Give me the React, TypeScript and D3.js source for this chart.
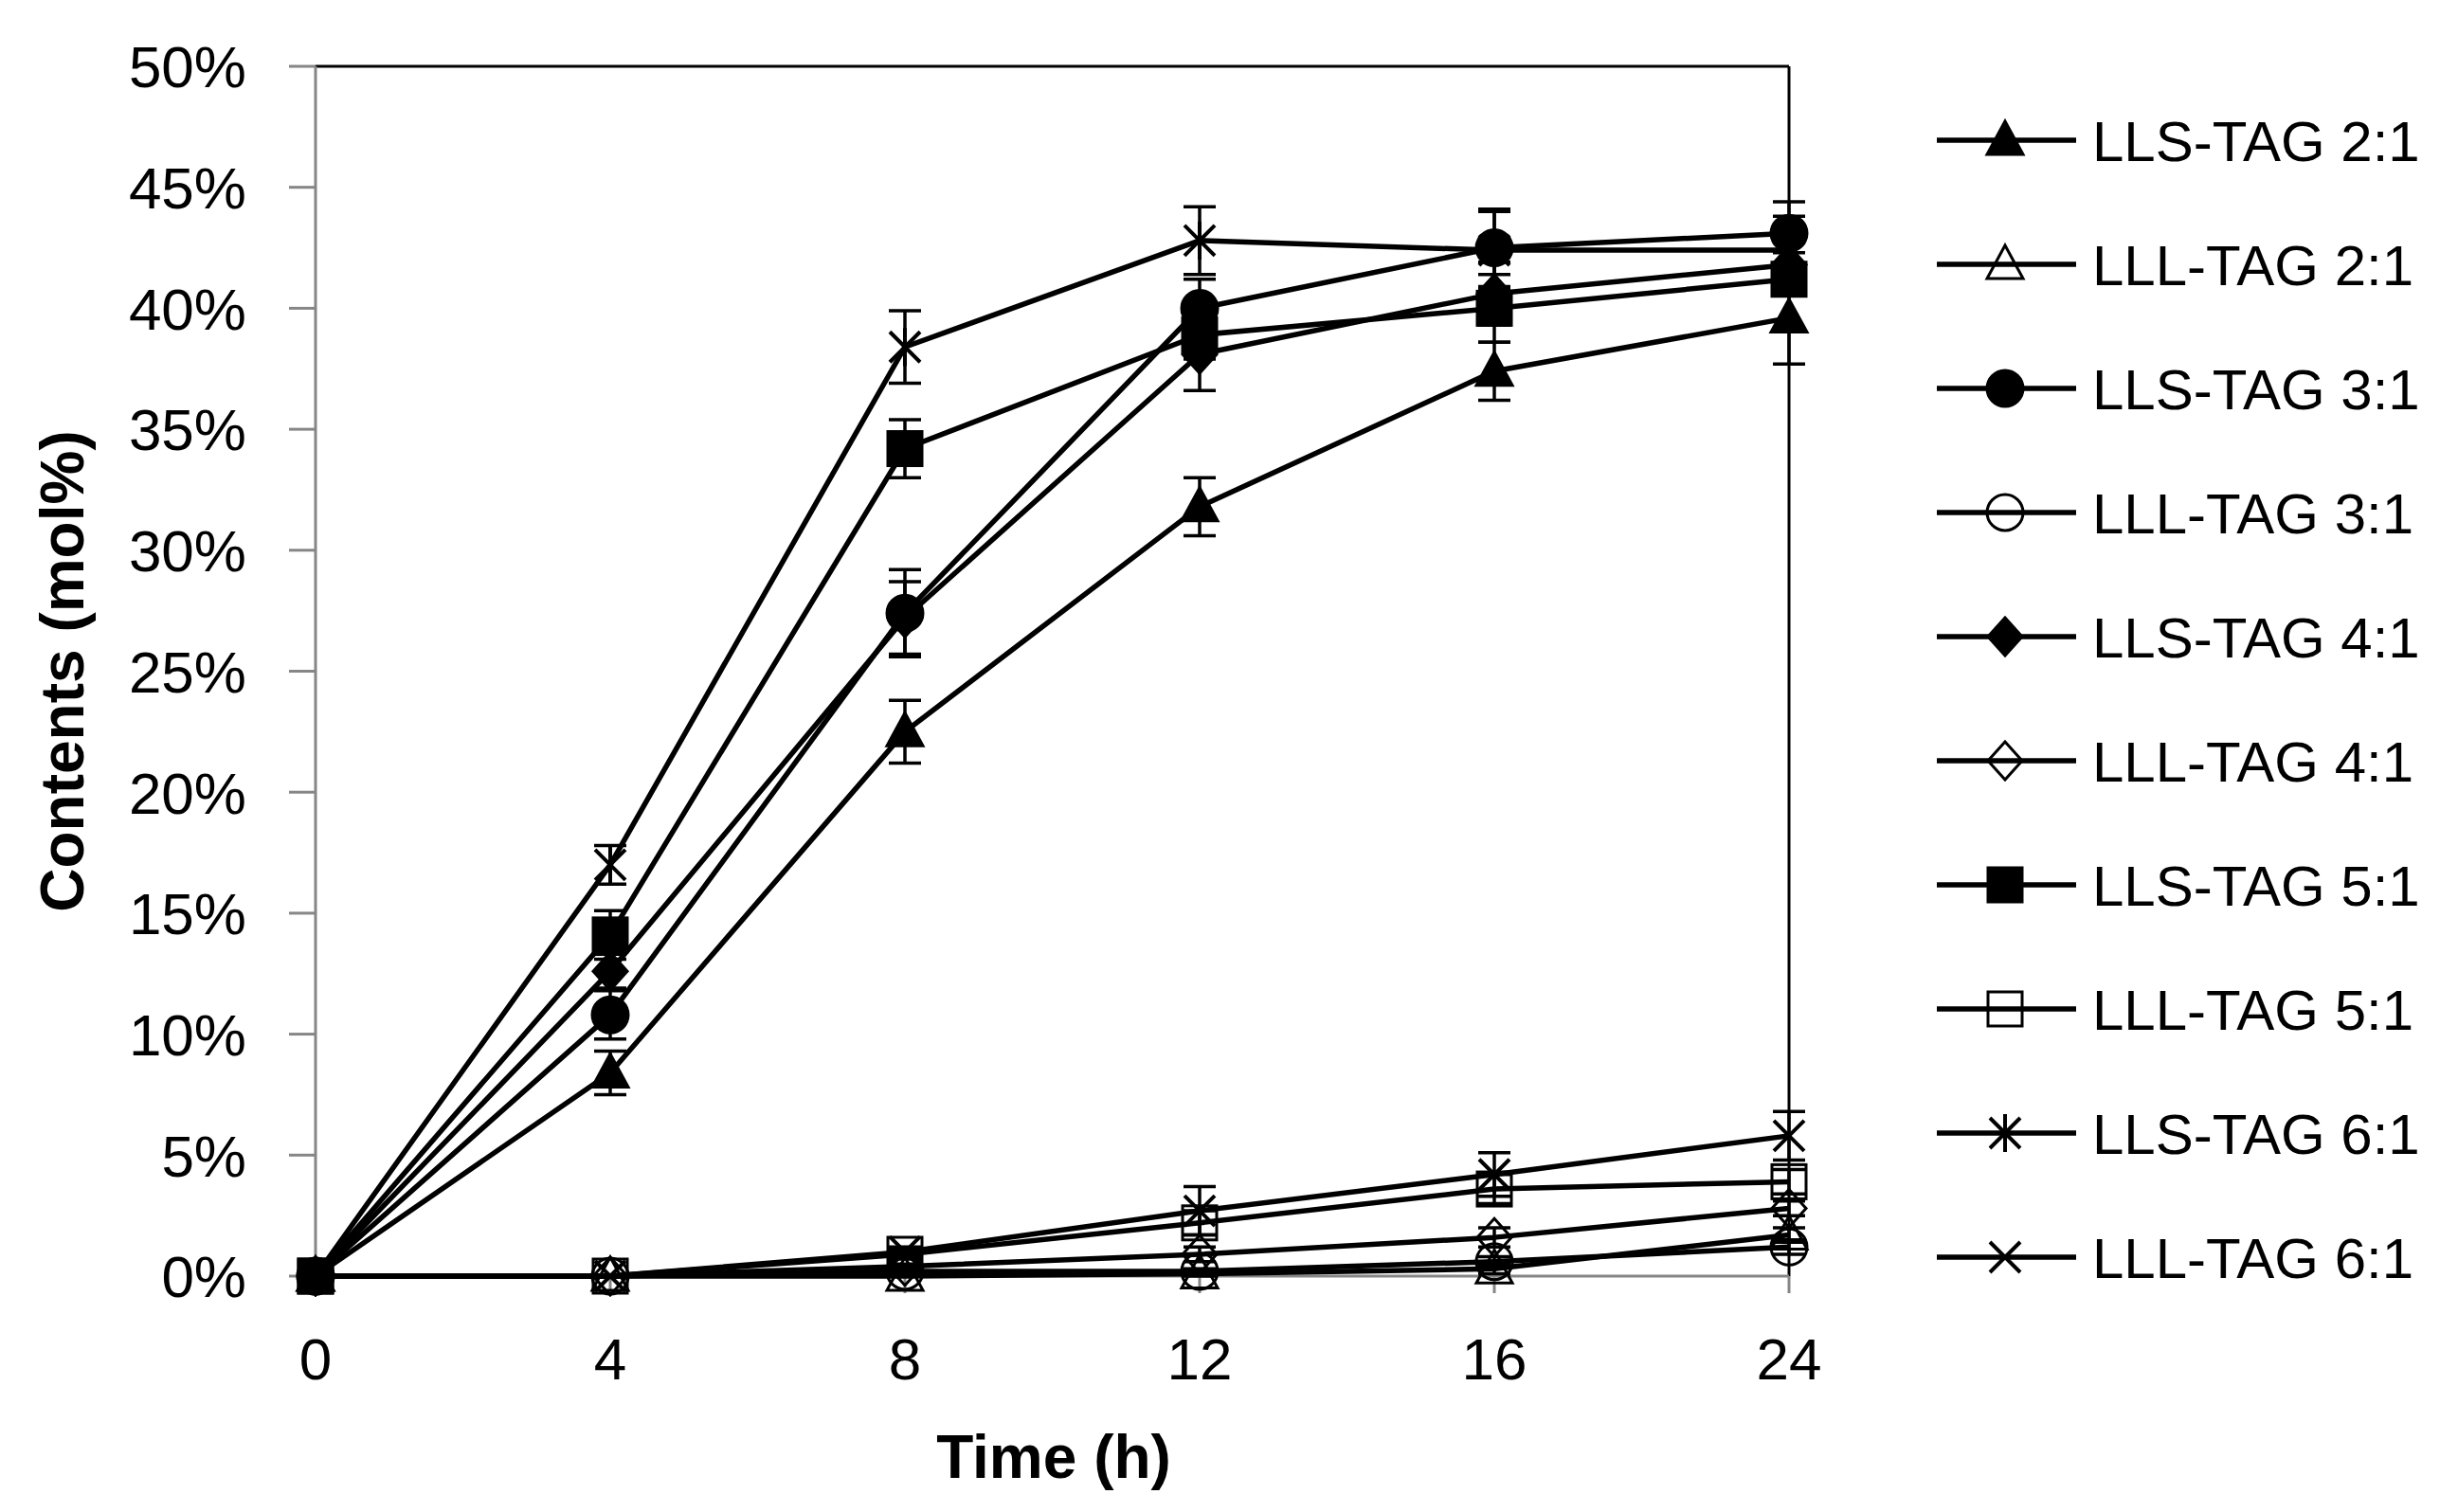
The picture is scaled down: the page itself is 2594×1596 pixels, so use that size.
import * as d3 from "d3";

const W = 2594;
const H = 1596;

const times = ["0", "4", "8", "12", "16", "24"];
const yTicks = [0, 5, 10, 15, 20, 25, 30, 35, 40, 45, 50];

type Shape = "triangle" | "circle" | "diamond" | "square" | "asterisk" | "cross";

const names = [
  "LLS-TAG 2:1", "LLL-TAG 2:1",
  "LLS-TAG 3:1", "LLL-TAG 3:1",
  "LLS-TAG 4:1", "LLL-TAG 4:1",
  "LLS-TAG 5:1", "LLL-TAG 5:1",
  "LLS-TAG 6:1", "LLL-TAG 6:1",
];
const shapes: Shape[] = [
  "triangle", "triangle", "circle", "circle", "diamond",
  "diamond", "square", "square", "asterisk", "cross",
];
const filled = [true, false, true, false, true, false, true, false, true, true];

// contents (mol%) per time point
const lls21 = [0, 8.4, 22.5, 31.8, 37.4, 39.6];
const lll21 = [0, 0, 0, 0.1, 0.3, 1.7];
const lls31 = [0, 10.8, 27.4, 40.0, 42.5, 43.1];
const lll31 = [0, 0, 0.2, 0.2, 0.6, 1.2];
const lls41 = [0, 12.6, 27.2, 38.1, 40.6, 41.8];
const lll41 = [0, 0, 0.4, 0.9, 1.6, 2.8];
const lls51 = [0, 14.1, 34.2, 38.9, 40.0, 41.2];
const lll51 = [0, 0, 0.9, 2.2, 3.6, 3.9];
const lls61 = [0, 17.0, 38.4, 42.8, 42.4, 42.4];
const lll61 = [0, 0, 1.0, 2.7, 4.2, 5.8];

// standard deviations
const lls21Err = [0, 0.9, 1.3, 1.2, 1.2, 1.9];
const lll21Err = [0, 0, 0, 0.1, 0.2, 0.3];
const lls31Err = [0, 1.0, 1.8, 1.2, 1.6, 1.3];
const lll31Err = [0, 0, 0.1, 0.1, 0.2, 0.3];
const lls41Err = [0, 0.7, 1.5, 1.5, 1.3, 0.5];
const lll41Err = [0, 0, 0.1, 0.3, 0.4, 0.3];
const lls51Err = [0, 1.0, 1.2, 1.0, 1.4, 0.6];
const lll51Err = [0, 0, 0.2, 0.5, 0.6, 0.5];
const lls61Err = [0, 0.8, 1.5, 1.4, 1.6, 1.4];
const lll61Err = [0, 0, 0.2, 1.0, 0.9, 1.0];

const values = [lls21, lll21, lls31, lll31, lls41, lll41, lls51, lll51, lls61, lll61];
const errors = [lls21Err, lll21Err, lls31Err, lll31Err, lls41Err, lll41Err, lls51Err, lll51Err, lls61Err, lll61Err];

const plot = { left: 333, right: 1888, top: 70, bottom: 1347 };
const font = "'Liberation Sans', Arial, sans-serif";
const axisGrey = "#868686";

function Marker({ shape, fill, x, y }: { shape: Shape; fill: boolean; x: number; y: number }) {
  // hollow markers have no fill, the line shows through them
  const f = fill ? "#000" : "none";
  if (shape === "triangle") {
    const p = `M${x},${y - 20}L${x + 19},${y + 15}L${x - 19},${y + 15}Z`;
    return <path d={p} fill={f} stroke="#000" strokeWidth={3} />;
  }
  if (shape === "circle") {
    return <circle cx={x} cy={y} r={19} fill={f} stroke="#000" strokeWidth={3} />;
  }
  if (shape === "diamond") {
    const p = `M${x},${y - 20}L${x + 18},${y}L${x},${y + 20}L${x - 18},${y}Z`;
    return <path d={p} fill={f} stroke="#000" strokeWidth={3} />;
  }
  if (shape === "square") {
    return <rect x={x - 18} y={y - 18} width={36} height={36} fill={f} stroke="#000" strokeWidth={3} />;
  }
  const d = 16;
  const cross = `M${x - d},${y - d}L${x + d},${y + d}M${x - d},${y + d}L${x + d},${y - d}`;
  const p = shape === "asterisk" ? cross + `M${x},${y - 20}L${x},${y + 20}` : cross;
  return <path d={p} fill="none" stroke="#000" strokeWidth={4} />;
}

export default function App() {
  const x = d3.scalePoint<string>().domain(times).range([plot.left, plot.right]).padding(0);
  const y = d3.scaleLinear().domain([0, 50]).range([plot.bottom, plot.top]);

  const line = d3.line<number>()
    .x((_, i) => x(times[i]) as number)
    .y(d => y(d));

  const legendTop = 148;
  const legendStep = 131;

  return (
    <svg width={W} height={H} style={{ position: "absolute", left: 0, top: 0, background: "#fff" }}>
      <rect width={W} height={H} fill="#fff" />

      {/* plot frame */}
      <line x1={plot.left} x2={plot.right} y1={plot.top} y2={plot.top} stroke="#000" strokeWidth={3} />
      <line x1={plot.right} x2={plot.right} y1={plot.top} y2={plot.bottom} stroke="#000" strokeWidth={3} />

      {/* y axis */}
      <line x1={plot.left} x2={plot.left} y1={plot.top} y2={plot.bottom} stroke={axisGrey} strokeWidth={3} />
      {yTicks.map(t => (
        <g key={t}>
          <line x1={plot.left - 28} x2={plot.left} y1={y(t)} y2={y(t)} stroke={axisGrey} strokeWidth={3} />
          <text x={260} y={y(t)} dy="0.36em" textAnchor="end" fontFamily={font} fontSize={62} fill="#000">
            {t}%
          </text>
        </g>
      ))}

      {/* x axis */}
      <line x1={plot.left} x2={plot.right} y1={plot.bottom} y2={plot.bottom} stroke={axisGrey} strokeWidth={3} />
      {times.map(t => (
        <g key={t}>
          <line x1={x(t)} x2={x(t)} y1={plot.bottom} y2={plot.bottom + 18} stroke={axisGrey} strokeWidth={3} />
          <text x={x(t)} y={1456} textAnchor="middle" fontFamily={font} fontSize={62} fill="#000">
            {t}
          </text>
        </g>
      ))}

      <text x={1112} y={1560} textAnchor="middle" fontFamily={font} fontSize={64} fontWeight="bold" fill="#000">
        Time (h)
      </text>
      <text
        transform={`translate(88,${(plot.top + plot.bottom) / 2}) rotate(-90)`}
        textAnchor="middle"
        fontFamily={font}
        fontSize={64}
        fontWeight="bold"
        fill="#000"
      >
        Contents (mol%)
      </text>

      {/* series */}
      {values.map((vals, s) => (
        <g key={names[s]}>
          <path d={line(vals) ?? ""} fill="none" stroke="#000" strokeWidth={5.5} strokeLinejoin="round" />
          {vals.map((v, i) => {
            const e = errors[s][i];
            if (e <= 0) return null;
            const cx = x(times[i]) as number;
            return (
              <g key={i} stroke="#000" strokeWidth={3.5}>
                <line x1={cx} x2={cx} y1={y(v - e)} y2={y(v + e)} />
                <line x1={cx - 17} x2={cx + 17} y1={y(v - e)} y2={y(v - e)} />
                <line x1={cx - 17} x2={cx + 17} y1={y(v + e)} y2={y(v + e)} />
              </g>
            );
          })}
          {vals.map((v, i) => (
            <Marker key={i} shape={shapes[s]} fill={filled[s]} x={x(times[i]) as number} y={y(v)} />
          ))}
        </g>
      ))}

      {/* legend */}
      {names.map((n, i) => {
        const ly = legendTop + i * legendStep;
        return (
          <g key={n}>
            <line x1={2044} x2={2191} y1={ly} y2={ly} stroke="#000" strokeWidth={5.5} />
            <Marker shape={shapes[i]} fill={filled[i]} x={2116} y={ly} />
            <text x={2208} y={ly} dy="0.36em" fontFamily={font} fontSize={60} fill="#000">
              {n}
            </text>
          </g>
        );
      })}
    </svg>
  );
}
